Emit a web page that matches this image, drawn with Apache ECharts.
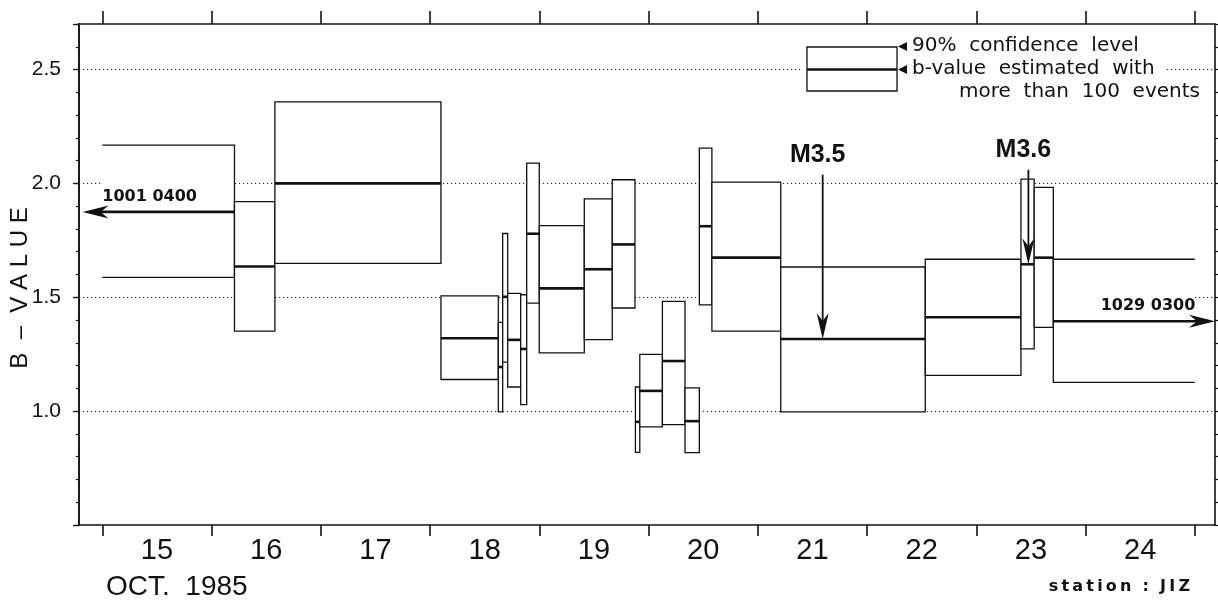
<!DOCTYPE html>
<html>
<head>
<meta charset="utf-8">
<script src="https://cdn.jsdelivr.net/npm/echarts@6/dist/echarts.min.js"></script>
<style>
  html, body { margin: 0; padding: 0; background: #fff; }
  #chart { width: 1218px; height: 601px; }
</style>
</head>
<body>
<div id="chart"></div>
<script>
  // time windows, in days of Oct. 1985 (15.0 = Oct 15, 00:00)
  const winStart = [15.0, 16.21, 16.58, 18.10, 18.625, 18.665, 18.711, 18.83, 18.885, 19.0, 19.412, 19.668,
    19.88, 19.92, 20.127, 20.334, 20.465, 20.58, 21.21, 22.533, 23.409, 23.53, 23.705];
  const winEnd = [16.21, 16.58, 18.10, 18.625, 18.665, 18.711, 18.83, 18.885, 19.0, 19.412, 19.668, 19.876,
    19.92, 20.127, 20.334, 20.465, 20.58, 21.21, 22.533, 23.409, 23.53, 23.705, 25.0];
  // 90% confidence limits and b-value
  const upper90 = [2.168, 1.92, 2.358, 1.506, 1.39, 1.78, 1.517, 1.511, 2.089, 1.815, 1.932, 2.016,
    1.106, 1.249, 1.482, 1.102, 2.155, 2.006, 1.633, 1.667, 2.019, 1.983, 1.667];
  const bValue = [1.875, 1.635, 2.0, 1.32, 1.194, 1.502, 1.313, 1.273, 1.779, 1.539, 1.623, 1.732,
    0.953, 1.089, 1.22, 0.956, 1.812, 1.674, 1.317, 1.412, 1.645, 1.674, 1.395];
  const lower90 = [1.587, 1.351, 1.649, 1.139, 0.997, 1.215, 1.106, 1.029, 1.474, 1.256, 1.314, 1.453,
    0.819, 0.931, 0.941, 0.818, 1.467, 1.351, 0.997, 1.157, 1.273, 1.368, 1.126];
  // -1: window runs out of the plot on the left, 1: on the right
  const openSide = [-1, 0, 0, 0, 0, 0, 0, 0, 0, 0, 0, 0, 0, 0, 0, 0, 0, 0, 0, 0, 0, 0, 1];

  // windows that start / end outside the plotted days
  const arrowFrom = [16.21, 23.705];
  const arrowTo = [14.82, 25.185];
  const arrowB = [1.875, 1.395];
  const arrowText = ['1001 0400', '1029 0300'];

  // earthquakes
  const quakeDay = [21.594, 23.477];
  const quakeTop = [2.038, 2.06];
  const quakeTip = [1.317, 1.645];
  const quakeName = ['M3.5', 'M3.6'];

  const dayTicks = [15, 16, 17, 18, 19, 20, 21, 22, 23, 24, 25];
  const dayLabelPos = [15.5, 16.5, 17.5, 18.5, 19.5, 20.5, 21.5, 22.5, 23.5, 24.5];
  const dayLabels = ['15', '16', '17', '18', '19', '20', '21', '22', '23', '24'];
  const bLabels = ['1.0', '1.5', '2.0', '2.5'];

  const INK = '#111';
  const TS = '\u2009'; // thin space, to spread the small captions

  const boxData = winStart.map((s, i) => [s, winEnd[i], upper90[i], bValue[i], lower90[i], openSide[i]]);
  const arrowData = arrowFrom.map((f, i) => [f, arrowTo[i], arrowB[i]]);
  const quakeData = quakeDay.map((d, i) => [d, quakeTop[i], quakeTip[i]]);

  function renderBox(params, api) {
    const tl = api.coord([api.value(0), api.value(2)]);
    const br = api.coord([api.value(1), api.value(4)]);
    const bl = api.coord([api.value(0), api.value(3)]);
    const brb = api.coord([api.value(1), api.value(3)]);
    const open = api.value(5);
    const children = [{
      type: 'rect',
      shape: { x: tl[0], y: tl[1], width: br[0] - tl[0], height: br[1] - tl[1] },
      style: open ? { fill: '#fff' } : { fill: '#fff', stroke: INK, lineWidth: 1.3 }
    }];
    if (open === -1) {
      children.push({
        type: 'polyline',
        shape: { points: [[tl[0], tl[1]], [br[0], tl[1]], [br[0], br[1]], [tl[0], br[1]]] },
        style: { stroke: INK, lineWidth: 1.3, fill: null }
      });
    } else if (open === 1) {
      children.push({
        type: 'polyline',
        shape: { points: [[br[0], tl[1]], [tl[0], tl[1]], [tl[0], br[1]], [br[0], br[1]]] },
        style: { stroke: INK, lineWidth: 1.3, fill: null }
      });
    } else {
      children.push({
        type: 'line',
        shape: { x1: bl[0], y1: bl[1], x2: brb[0], y2: brb[1] },
        style: { stroke: INK, lineWidth: 2.6 }
      });
    }
    return { type: 'group', children: children };
  }

  function renderArrow(params, api) {
    const i = params.dataIndex;
    const a = api.coord([api.value(0), api.value(2)]);
    const b = api.coord([api.value(1), api.value(2)]);
    const dir = b[0] < a[0] ? -1 : 1;
    const hl = 26, hw = 6.5;
    return {
      type: 'group',
      children: [
        { type: 'line', shape: { x1: a[0], y1: a[1], x2: b[0] - dir * 10, y2: b[1] },
          style: { stroke: INK, lineWidth: 2.6 } },
        { type: 'polygon',
          shape: { points: [[b[0], b[1]], [b[0] - dir * hl, b[1] - hw], [b[0] - dir * (hl - 8), b[1]], [b[0] - dir * hl, b[1] + hw]] },
          style: { fill: INK } },
        { type: 'text', x: b[0] - dir * 67, y: b[1] - 15,
          style: { text: arrowText[i], fill: INK, fontSize: 16, fontWeight: 'bold', fontFamily: 'DejaVu Sans',
            align: 'center', verticalAlign: 'middle', textAlign: 'center', textVerticalAlign: 'middle' } }
      ]
    };
  }

  function renderQuake(params, api) {
    const i = params.dataIndex;
    const top = api.coord([api.value(0), api.value(1)]);
    const tip = api.coord([api.value(0), api.value(2)]);
    const hl = 26, hw = 6;
    return {
      type: 'group',
      children: [
        { type: 'line', shape: { x1: top[0], y1: top[1], x2: tip[0], y2: tip[1] - 10 },
          style: { stroke: INK, lineWidth: 1.8 } },
        { type: 'polygon',
          shape: { points: [[tip[0], tip[1]], [tip[0] - hw, tip[1] - hl], [tip[0], tip[1] - hl + 8], [tip[0] + hw, tip[1] - hl]] },
          style: { fill: INK } },
        { type: 'text', x: top[0] - 5, y: top[1] - 20,
          style: { text: quakeName[i], fill: INK, fontSize: 25, fontWeight: 'bold', fontFamily: 'Liberation Sans',
            align: 'center', verticalAlign: 'middle', textAlign: 'center', textVerticalAlign: 'middle' } }
      ]
    };
  }

  const xCommon = {
    type: 'value',
    min: 14.787,
    max: 25.185,
    axisLine: { show: true, onZero: false, lineStyle: { color: INK, width: 1.6 } },
    splitLine: { show: false }
  };

  const option = {
    animation: false,
    backgroundColor: '#fff',
    grid: { left: 79, right: 3, top: 24, bottom: 76 },
    xAxis: [
      Object.assign({}, xCommon, {
        position: 'bottom',
        axisTick: { show: true, customValues: dayTicks, length: 11, lineStyle: { color: INK, width: 1.6 } },
        axisLabel: {
          customValues: dayLabelPos,
          formatter: v => dayLabels[Math.floor(v) - 15],
          color: INK, fontSize: 29, fontFamily: 'Liberation Sans', margin: 11
        }
      }),
      Object.assign({}, xCommon, {
        position: 'top',
        axisTick: { show: true, customValues: dayTicks, length: 13, lineStyle: { color: INK, width: 1.6 } },
        axisLabel: { show: false }
      })
    ],
    yAxis: [
      {
        type: 'value', position: 'left', min: 0.5, max: 2.7, interval: 0.5,
        axisLine: { show: true, lineStyle: { color: INK, width: 1.6 } },
        axisTick: { show: true, length: 6, lineStyle: { color: INK, width: 1.3 } },
        axisLabel: {
          formatter: v => {
            const s = v.toFixed(1);
            return bLabels.indexOf(s) >= 0 ? s : '';
          },
          color: INK, fontSize: 21, fontFamily: 'Liberation Sans', margin: 18
        },
        splitLine: { show: true, showMinLine: false, showMaxLine: false,
          lineStyle: { color: '#222', width: 1, type: [1.2, 2.8] } }
      },
      {
        type: 'value', position: 'left', min: 0.5, max: 2.7, interval: 0.1,
        axisLine: { show: true, lineStyle: { color: INK, width: 1.6 } },
        axisTick: { show: true, length: 3, lineStyle: { color: INK, width: 1.2 } },
        axisLabel: { show: false },
        splitLine: { show: false }
      },
      {
        type: 'value', position: 'right', min: 0.5, max: 2.7, interval: 0.1,
        axisLine: { show: true, lineStyle: { color: INK, width: 1.6 } },
        axisTick: { show: true, length: 3, lineStyle: { color: INK, width: 1.2 } },
        axisLabel: { show: false },
        splitLine: { show: false }
      }
    ],
    graphic: [
      // legend
      { type: 'rect', shape: { x: 800, y: 36, width: 366, height: 64 }, style: { fill: '#fff' }, z: 5 },
      { type: 'rect', shape: { x: 807, y: 47, width: 90, height: 44 }, style: { fill: '#fff', stroke: INK, lineWidth: 1.3 }, z: 6 },
      { type: 'line', shape: { x1: 807, y1: 69.5, x2: 897, y2: 69.5 }, style: { stroke: INK, lineWidth: 2.6 }, z: 6 },
      { type: 'polygon', shape: { points: [[898, 46.5], [907, 42], [907, 51]] }, style: { fill: INK }, z: 6 },
      { type: 'polygon', shape: { points: [[898, 69.5], [907, 65], [907, 74]] }, style: { fill: INK }, z: 6 },
      { type: 'text', x: 912, y: 46, z: 6,
        style: { text: '90%  confidence  level', fill: INK, fontSize: 20, fontFamily: 'DejaVu Sans',
          align: 'left', verticalAlign: 'middle', textAlign: 'left', textVerticalAlign: 'middle' } },
      { type: 'text', x: 912, y: 69, z: 6,
        style: { text: 'b-value  estimated  with', fill: INK, fontSize: 20, fontFamily: 'DejaVu Sans',
          align: 'left', verticalAlign: 'middle', textAlign: 'left', textVerticalAlign: 'middle' } },
      { type: 'text', x: 1200, y: 92, z: 6,
        style: { text: 'more  than  100  events', fill: INK, fontSize: 20, fontFamily: 'DejaVu Sans',
          align: 'right', verticalAlign: 'middle', textAlign: 'right', textVerticalAlign: 'middle' } },
      // axis titles
      { type: 'text', x: 20, y: 288, rotation: Math.PI / 2,
        style: { text: 'B  –  V A L U E', fill: INK, fontSize: 24, fontFamily: 'Liberation Sans',
          align: 'center', verticalAlign: 'middle', textAlign: 'center', textVerticalAlign: 'middle' } },
      { type: 'text', x: 106, y: 587,
        style: { text: 'OCT.  1985', fill: INK, fontSize: 28, fontFamily: 'Liberation Sans',
          align: 'left', verticalAlign: 'middle', textAlign: 'left', textVerticalAlign: 'middle' } },
      { type: 'text', x: 1190, y: 587,
        style: { text: ['s', 't', 'a', 't', 'i', 'o', 'n'].join(TS) + '  :  ' + ['J', 'I', 'Z'].join(TS),
          fill: INK, fontSize: 16, fontWeight: 'bold', fontFamily: 'DejaVu Sans',
          align: 'right', verticalAlign: 'middle', textAlign: 'right', textVerticalAlign: 'middle' } }
    ],
    series: [
      { type: 'custom', name: 'b-value', xAxisIndex: 0, yAxisIndex: 0, renderItem: renderBox, data: boxData, z: 2 },
      { type: 'custom', name: 'open windows', xAxisIndex: 0, yAxisIndex: 0, renderItem: renderArrow, data: arrowData, z: 3 },
      { type: 'custom', name: 'events', xAxisIndex: 0, yAxisIndex: 0, renderItem: renderQuake, data: quakeData, z: 4 }
    ]
  };

  const chart = echarts.init(document.getElementById('chart'));
  chart.setOption(option);
</script>
</body>
</html>
